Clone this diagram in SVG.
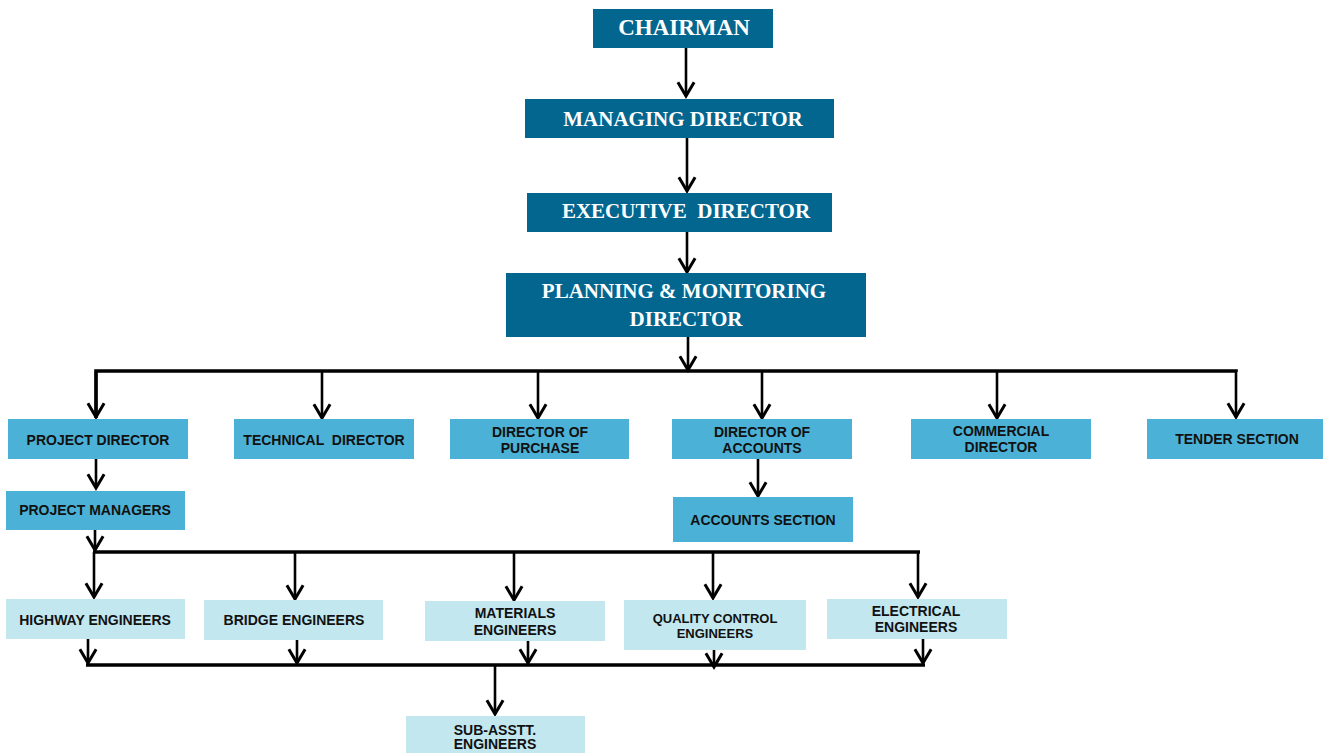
<svg xmlns="http://www.w3.org/2000/svg" width="1323" height="753" viewBox="0 0 1323 753">
<style>
.dk{fill:#03668f}
.md{fill:#4bb1d7}
.lt{fill:#c2e7ef}
.ts{font-family:"Liberation Serif","Times New Roman",serif;font-weight:bold;fill:#ffffff;text-anchor:middle}
.ta{font-family:"Liberation Sans",Arial,sans-serif;font-weight:bold;fill:#111111;text-anchor:middle;font-size:14px}
.ta13{font-size:13px}
.c{stroke:#000;stroke-width:2.6;fill:none}
.bar{stroke:#000;stroke-width:3.6;fill:none}
</style>
<defs>
<marker id="ah" markerUnits="userSpaceOnUse" markerWidth="20" markerHeight="20" viewBox="-12 -8 14 16" refX="0" refY="0" orient="auto">
<path d="M-11,-6.5 L0,0 L-11,6.5" fill="none" stroke="#000" stroke-width="2.4"/>
</marker>
</defs>
<rect width="1323" height="753" fill="#ffffff"/>

<g id="connectors">
<line class="c" x1="686" y1="48" x2="686" y2="96" marker-end="url(#ah)"/>
<line class="c" x1="687" y1="138" x2="687" y2="191" marker-end="url(#ah)"/>
<line class="c" x1="687" y1="232" x2="687" y2="272" marker-end="url(#ah)"/>
<line class="c" x1="688" y1="337" x2="688" y2="370" marker-end="url(#ah)"/>
<polyline class="bar" points="96,418 96,371 1236,371 1236,372"/>
<line class="c" x1="96" y1="372" x2="96" y2="417" marker-end="url(#ah)"/>
<line class="c" x1="322" y1="372" x2="322" y2="418" marker-end="url(#ah)"/>
<line class="c" x1="538" y1="372" x2="538" y2="418" marker-end="url(#ah)"/>
<line class="c" x1="762" y1="372" x2="762" y2="418" marker-end="url(#ah)"/>
<line class="c" x1="997" y1="372" x2="997" y2="418" marker-end="url(#ah)"/>
<line class="c" x1="1236" y1="372" x2="1236" y2="417" marker-end="url(#ah)"/>
<line class="c" x1="96" y1="459" x2="96" y2="488" marker-end="url(#ah)"/>
<line class="c" x1="758" y1="459" x2="758" y2="496" marker-end="url(#ah)"/>
<line class="c" x1="95" y1="529" x2="95" y2="550" marker-end="url(#ah)"/>
<line class="bar" x1="93" y1="552" x2="920" y2="552"/>
<line class="c" x1="94" y1="552" x2="94" y2="597" marker-end="url(#ah)"/>
<line class="c" x1="295" y1="552" x2="295" y2="599" marker-end="url(#ah)"/>
<line class="c" x1="514" y1="552" x2="514" y2="600" marker-end="url(#ah)"/>
<line class="c" x1="713" y1="552" x2="713" y2="598" marker-end="url(#ah)"/>
<line class="c" x1="918" y1="552" x2="918" y2="597" marker-end="url(#ah)"/>
<line class="c" x1="88" y1="639" x2="88" y2="663" marker-end="url(#ah)"/>
<line class="c" x1="297" y1="640" x2="297" y2="663" marker-end="url(#ah)"/>
<line class="c" x1="528" y1="641" x2="528" y2="663" marker-end="url(#ah)"/>
<line class="c" x1="714" y1="650" x2="714" y2="667" marker-end="url(#ah)"/>
<line class="c" x1="923" y1="639" x2="923" y2="663" marker-end="url(#ah)"/>
<line class="bar" x1="86" y1="665" x2="925" y2="665"/>
<line class="c" x1="495" y1="666" x2="495" y2="714" marker-end="url(#ah)"/>
</g>

<g id="chairman"><rect class="dk" x="593" y="9" width="180" height="39"/><text class="ts" x="684" y="35" font-size="23">CHAIRMAN</text></g>
<g id="managing-director"><rect class="dk" x="525" y="99" width="309" height="39"/><text class="ts" x="683" y="126" font-size="21">MANAGING DIRECTOR</text></g>
<g id="executive-director"><rect class="dk" x="527" y="193" width="305" height="39"/><text class="ts" x="686" y="218" font-size="21" xml:space="preserve">EXECUTIVE  DIRECTOR</text></g>
<g id="planning-monitoring-director"><rect class="dk" x="506" y="273" width="360" height="64"/><text class="ts" x="684" y="298" font-size="21">PLANNING &amp; MONITORING</text><text class="ts" x="686" y="326" font-size="21">DIRECTOR</text></g>

<g id="project-director"><rect class="md" x="8" y="419" width="180" height="40"/><text class="ta" x="98" y="445">PROJECT DIRECTOR</text></g>
<g id="technical-director"><rect class="md" x="234" y="419" width="180" height="40"/><text class="ta" x="324" y="445" xml:space="preserve">TECHNICAL  DIRECTOR</text></g>
<g id="director-of-purchase"><rect class="md" x="450" y="419" width="179" height="40"/><text class="ta" x="540" y="437">DIRECTOR OF</text><text class="ta" x="540" y="453">PURCHASE</text></g>
<g id="director-of-accounts"><rect class="md" x="672" y="419" width="180" height="40"/><text class="ta" x="762" y="437">DIRECTOR OF</text><text class="ta" x="762" y="453">ACCOUNTS</text></g>
<g id="commercial-director"><rect class="md" x="911" y="419" width="180" height="40"/><text class="ta" x="1001" y="436">COMMERCIAL</text><text class="ta" x="1001" y="452">DIRECTOR</text></g>
<g id="tender-section"><rect class="md" x="1147" y="419" width="176" height="40"/><text class="ta" x="1237" y="444">TENDER SECTION</text></g>

<g id="project-managers"><rect class="md" x="6" y="491" width="179" height="39"/><text class="ta" x="95" y="515">PROJECT MANAGERS</text></g>
<g id="accounts-section"><rect class="md" x="673" y="497" width="180" height="45"/><text class="ta" x="763" y="525">ACCOUNTS SECTION</text></g>

<g id="highway-engineers"><rect class="lt" x="6" y="599" width="179" height="40"/><text class="ta" x="95" y="625">HIGHWAY ENGINEERS</text></g>
<g id="bridge-engineers"><rect class="lt" x="204" y="600" width="179" height="40"/><text class="ta" x="294" y="625">BRIDGE ENGINEERS</text></g>
<g id="materials-engineers"><rect class="lt" x="425" y="601" width="180" height="40"/><text class="ta" x="515" y="618">MATERIALS</text><text class="ta" x="515" y="635">ENGINEERS</text></g>
<g id="quality-control-engineers"><rect class="lt" x="624" y="600" width="182" height="50"/><text class="ta ta13" x="715" y="623">QUALITY CONTROL</text><text class="ta ta13" x="715" y="638">ENGINEERS</text></g>
<g id="electrical-engineers"><rect class="lt" x="827" y="599" width="180" height="40"/><text class="ta" x="916" y="616">ELECTRICAL</text><text class="ta" x="916" y="632">ENGINEERS</text></g>
<g id="sub-asstt-engineers"><rect class="lt" x="406" y="716" width="179" height="40"/><text class="ta" x="495" y="735">SUB-ASSTT.</text><text class="ta" x="495" y="749">ENGINEERS</text></g>
</svg>
